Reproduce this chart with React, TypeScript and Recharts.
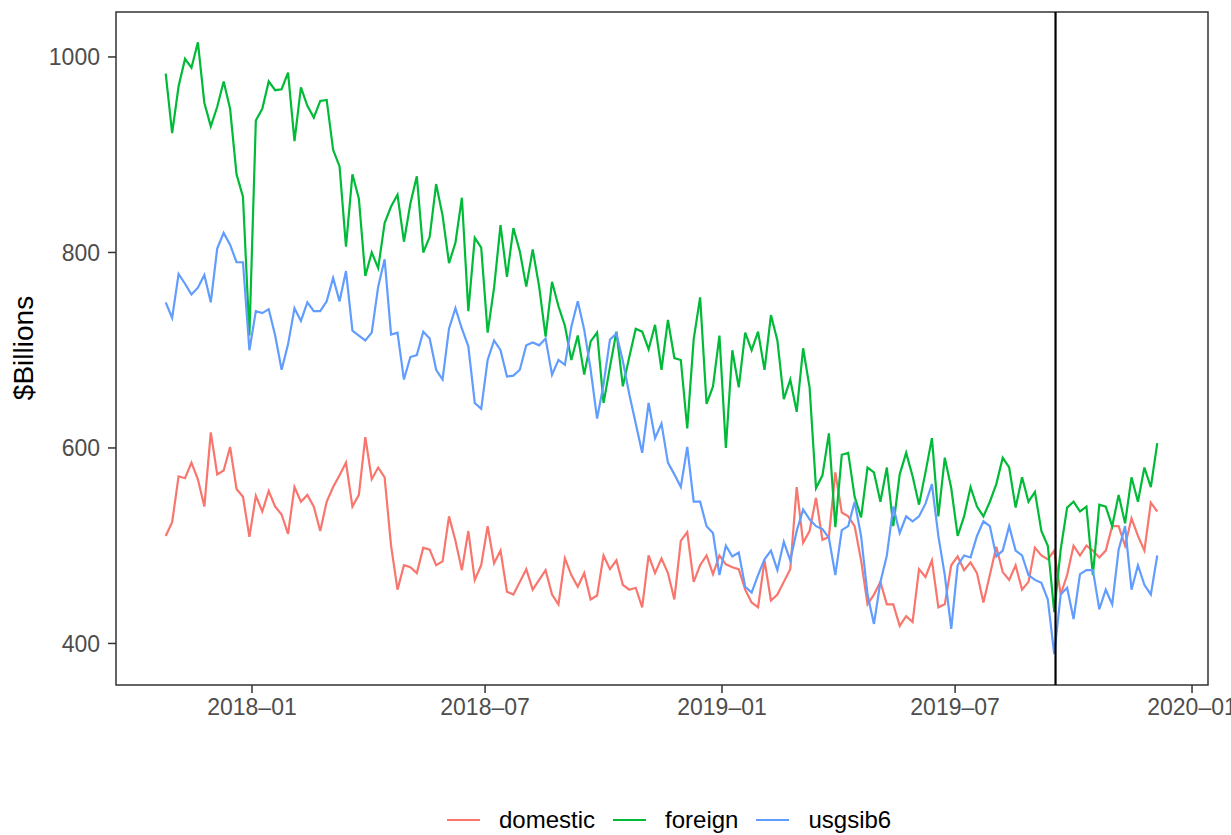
import { LineChart, Line, XAxis, YAxis, ReferenceLine, ReferenceArea, Legend, Label } from 'recharts';

// observations every 5 days, day 0 = 2018-01-01 (first obs 2017-10-26)
const FIRST_DAY = -67;
const STEP_DAYS = 5;

const domestic = [
  510, 524, 571, 569, 585, 568, 540, 616, 573, 577,
  601, 558, 550, 509, 551, 535, 556, 540, 532, 512,
  560, 545, 552, 540, 515, 545, 560, 572, 585, 540,
  552, 611, 568, 580, 570, 500, 455, 480, 478, 472,
  498, 496, 480, 484, 530, 505, 475, 515, 465, 480,
  520, 482, 495, 453, 450, 463, 476, 455, 465, 475,
  450, 440, 487, 470, 458, 472, 445, 449, 490, 476,
  485, 460, 455, 457, 437, 490, 472, 487, 472, 445,
  505, 514, 463, 480, 490, 471, 490, 481, 478, 476,
  455, 442, 437, 485, 444, 450, 463, 476, 560, 503,
  515, 549, 506, 509, 575, 534, 530, 520, 485, 440,
  450, 463, 440, 440, 418, 428, 422, 476, 468, 485,
  437, 440, 480, 489, 475, 483, 472, 442, 470, 499,
  473, 465, 480, 455, 463, 498, 490, 486, 495, 450,
  470, 500, 490, 500, 495, 488, 495, 520, 520, 500,
  528, 510, 495, 544, 535,
];

const foreign = [
  983, 922, 970, 998, 989, 1015, 953, 929, 949, 975,
  947, 880, 857, 715, 935, 947, 975, 966, 967, 984,
  914, 969, 950, 938, 955, 956, 905, 888, 806, 880,
  855, 776, 800, 784, 830, 847, 859, 811, 850, 878,
  800, 816, 870, 838, 789, 810, 856, 740, 815, 805,
  718, 764, 828, 775, 825, 801, 765, 803, 765, 714,
  770, 745, 725, 690, 715, 675, 709, 718, 646, 683,
  719, 663, 693, 722, 719, 701, 726, 680, 731, 692,
  690, 620, 711, 754, 645, 663, 715, 600, 700, 662,
  718, 700, 719, 680, 736, 710, 650, 670, 637, 702,
  662, 559, 572, 615, 519, 593, 595, 550, 529, 580,
  575, 545, 580, 520, 573, 595, 571, 542, 575, 610,
  530, 590, 559, 510, 530, 560, 540, 530, 545, 563,
  590, 580, 539, 570, 545, 555, 515, 500, 432, 496,
  539, 545, 535, 540, 470, 542, 540, 520, 552, 523,
  570, 545, 580, 560, 605,
];

const usgsib6 = [
  749, 733, 778, 768, 757, 764, 777, 749, 804, 820,
  808, 790, 790, 700, 740, 738, 742, 715, 680, 706,
  743, 730, 749, 740, 740, 750, 774, 750, 781, 720,
  715, 710, 718, 765, 793, 716, 718, 670, 693, 695,
  719, 712, 680, 670, 722, 743, 722, 704, 646, 640,
  690, 710, 700, 673, 674, 680, 705, 708, 705, 712,
  675, 690, 685, 724, 750, 721, 680, 630, 665, 711,
  717, 689, 655, 625, 595, 646, 610, 625, 585, 573,
  560, 601, 545, 545, 520, 513, 470, 500, 489, 493,
  458, 452, 470, 486, 495, 475, 504, 485, 515, 537,
  527, 520, 517, 508, 470, 516, 520, 545, 510, 450,
  420, 463, 490, 540, 513, 530, 525, 530, 543, 563,
  510, 470, 415, 480, 490, 488, 510, 525, 520, 489,
  495, 520, 495, 490, 470, 465, 462, 445, 389, 450,
  457, 425, 471, 475, 475, 435, 455, 440, 496, 520,
  455, 480, 460, 450, 490,
];

const xTickDays = [0, 181, 365, 546, 730];
const xTickLabels = ['2018–01', '2018–07', '2019–01', '2019–07', '2020–01'];
const yTicks = [400, 600, 800, 1000];

const seriesNames = ['domestic', 'foreign', 'usgsib6'];
const seriesColors = ['#F8766D', '#00BA38', '#619CFF'];

const eventDay = 624; // 2019-09-17

const X_DOMAIN = [-105.6, 742.4];
const Y_DOMAIN = [357.5, 1046];

const FONT = "'Liberation Sans', Arial, Helvetica, sans-serif";

const data = domestic.map((v, i) => ({
  day: FIRST_DAY + i * STEP_DAYS,
  domestic: v,
  foreign: foreign[i],
  usgsib6: usgsib6[i],
}));

function renderLegend() {
  return (
    <div style={{ height: 30, display: 'flex', alignItems: 'center', paddingLeft: 447, fontFamily: FONT, fontSize: 24, color: '#000' }}>
      {seriesNames.map((name, i) => (
        <div key={name} style={{ display: 'flex', alignItems: 'center', marginRight: 18 }}>
          <svg width={33} height={20} style={{ display: 'block' }}>
            <line x1={0} y1={10} x2={33} y2={10} stroke={seriesColors[i]} strokeWidth={2.2} />
          </svg>
          <span style={{ marginLeft: 19, lineHeight: '30px' }}>{name}</span>
        </div>
      ))}
    </div>
  );
}

export default function App() {
  return (
    <div style={{ width: 1231, height: 835, background: '#fff' }}>
      <style>{'body { margin: 0; }'}</style>
      <LineChart width={1231} height={835} data={data} margin={{ top: 12, right: 23, bottom: 0, left: 0 }}>
        <XAxis
          dataKey="day"
          type="number"
          domain={X_DOMAIN}
          allowDataOverflow
          ticks={xTickDays}
          tickFormatter={(d) => xTickLabels[xTickDays.indexOf(d)] ?? ''}
          height={120}
          tickSize={8}
          tickMargin={6}
          axisLine={false}
          tickLine={{ stroke: '#333333', strokeWidth: 1.5 }}
          tick={{ fill: '#4D4D4D', fontSize: 23, fontFamily: FONT }}
          interval={0}
        />
        <YAxis
          type="number"
          domain={Y_DOMAIN}
          allowDataOverflow
          ticks={yTicks}
          width={116}
          tickSize={8}
          tickMargin={8}
          axisLine={false}
          tickLine={{ stroke: '#333333', strokeWidth: 1.5 }}
          tick={{ fill: '#4D4D4D', fontSize: 23, fontFamily: FONT }}
          interval={0}
        >
          <Label
            content={() => (
              <text
                x={33}
                y={348}
                transform="rotate(-90 33 348)"
                textAnchor="middle"
                fontSize={28}
                fontFamily={FONT}
                fill="#000"
              >
                $Billions
              </text>
            )}
          />
        </YAxis>
        <ReferenceArea
          x1={X_DOMAIN[0]}
          x2={X_DOMAIN[1]}
          y1={Y_DOMAIN[0]}
          y2={Y_DOMAIN[1]}
          fill="none"
          stroke="#333333"
          strokeWidth={1.5}
        />
        {seriesNames.map((name, i) => (
          <Line
            key={name}
            dataKey={name}
            type="linear"
            stroke={seriesColors[i]}
            strokeWidth={2.2}
            dot={false}
            activeDot={false}
            isAnimationActive={false}
          />
        ))}
        <ReferenceLine x={eventDay} stroke="#000" strokeWidth={2.2} />
        <Legend verticalAlign="bottom" content={renderLegend} />
      </LineChart>
    </div>
  );
}
